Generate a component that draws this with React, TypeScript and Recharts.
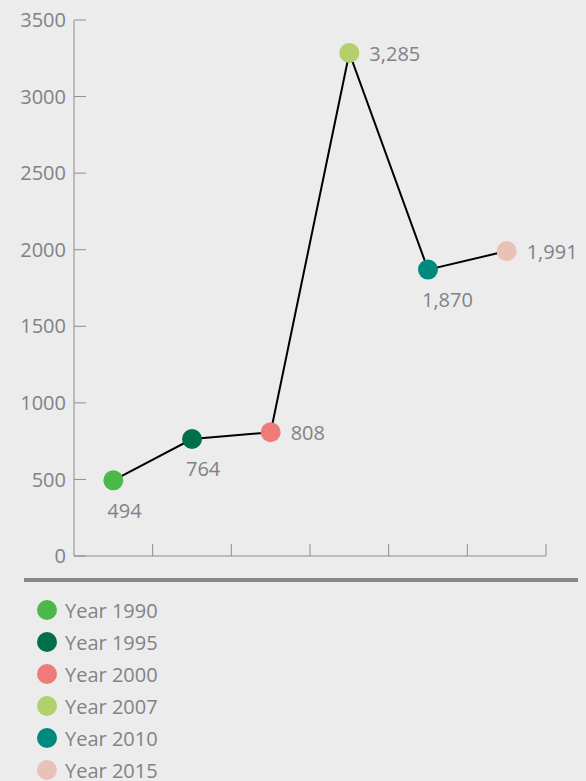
import { LineChart, Line, XAxis, YAxis, LabelList } from 'recharts';

const years = ['Year 1990', 'Year 1995', 'Year 2000', 'Year 2007', 'Year 2010', 'Year 2015'];
const values = [494, 764, 808, 3285, 1870, 1991];
const colors = ['#4cb848', '#00704a', '#ef7b78', '#b2d06b', '#00897d', '#e9c1b7'];
const yTicks = [0, 500, 1000, 1500, 2000, 2500, 3000, 3500];
// years whose value label sits under the dot instead of to its right
const labelsBelow = ['Year 1990', 'Year 1995', 'Year 2010'];

const data = years.map((year, i) => ({ year, value: values[i], color: colors[i] }));

const FONT = '"Open Sans", sans-serif';
const TEXT = '#818286';
const AXIS = '#8c8d90';
const BAND_HALF = 472 / years.length / 2;

const YTick = (props: any) => {
  const { x, y, payload } = props;
  return (
    <g>
      <line x1={x} y1={y} x2={x + 12} y2={y} stroke={AXIS} strokeWidth={1} />
      <text x={x - 8} y={y} dy="0.36em" textAnchor="end" fill={TEXT} fontSize={20} fontFamily={FONT}>
        {payload.value}
      </text>
    </g>
  );
};

// tick marks sit on the band edges, pointing up into the plot
const XTick = (props: any) => {
  const { x, y } = props;
  const edge = x + BAND_HALF;
  return <line x1={edge} y1={y} x2={edge} y2={y - 12} stroke={AXIS} strokeWidth={1} />;
};

const Dot = (props: any) => {
  const { cx, cy, payload } = props;
  return <circle key={payload.year} cx={cx} cy={cy} r={10} fill={payload.color} />;
};

const ValueLabel = (props: any) => {
  const { x, y, value, index } = props;
  const below = labelsBelow.includes(years[index]);
  return (
    <text
      x={below ? x - 6 : x + 20}
      y={below ? y + 30 : y + 1}
      dy="0.36em"
      textAnchor="start"
      fill={TEXT}
      fontSize={20}
      fontFamily={FONT}
    >
      {Number(value).toLocaleString('en-US')}
    </text>
  );
};

export default function App() {
  return (
    <div
      style={{
        position: 'absolute',
        top: 0,
        left: 0,
        width: 586,
        height: 781,
        background: '#ececec',
        overflow: 'hidden',
        fontFamily: FONT,
      }}
    >
      <LineChart width={586} height={600} data={data} margin={{ top: 20, right: 40, bottom: 24, left: 14 }}>
        <XAxis
          dataKey="year"
          scale="band"
          height={20}
          axisLine={{ stroke: AXIS }}
          tickLine={false}
          tickSize={0}
          tickMargin={0}
          tick={<XTick />}
          interval={0}
        />
        <YAxis
          width={60}
          domain={[0, 3500]}
          ticks={yTicks}
          axisLine={{ stroke: AXIS }}
          tickLine={false}
          tickSize={0}
          tickMargin={0}
          tick={<YTick />}
          interval={0}
        />
        <Line
          dataKey="value"
          stroke="#000"
          strokeWidth={2}
          dot={<Dot />}
          activeDot={false}
          isAnimationActive={false}
        >
          <LabelList dataKey="value" content={<ValueLabel />} />
        </Line>
      </LineChart>
      <div style={{ position: 'absolute', left: 24, top: 578, width: 554, height: 4, background: '#85868a' }} />
      <div style={{ position: 'absolute', left: 37, top: 594 }}>
        {years.map((year, i) => (
          <div key={year} style={{ display: 'flex', alignItems: 'center', height: 32 }}>
            <span
              style={{
                width: 20,
                height: 20,
                borderRadius: '50%',
                background: colors[i],
                display: 'inline-block',
                marginRight: 8,
              }}
            />
            <span style={{ color: TEXT, fontSize: 20 }}>{year}</span>
          </div>
        ))}
      </div>
    </div>
  );
}
